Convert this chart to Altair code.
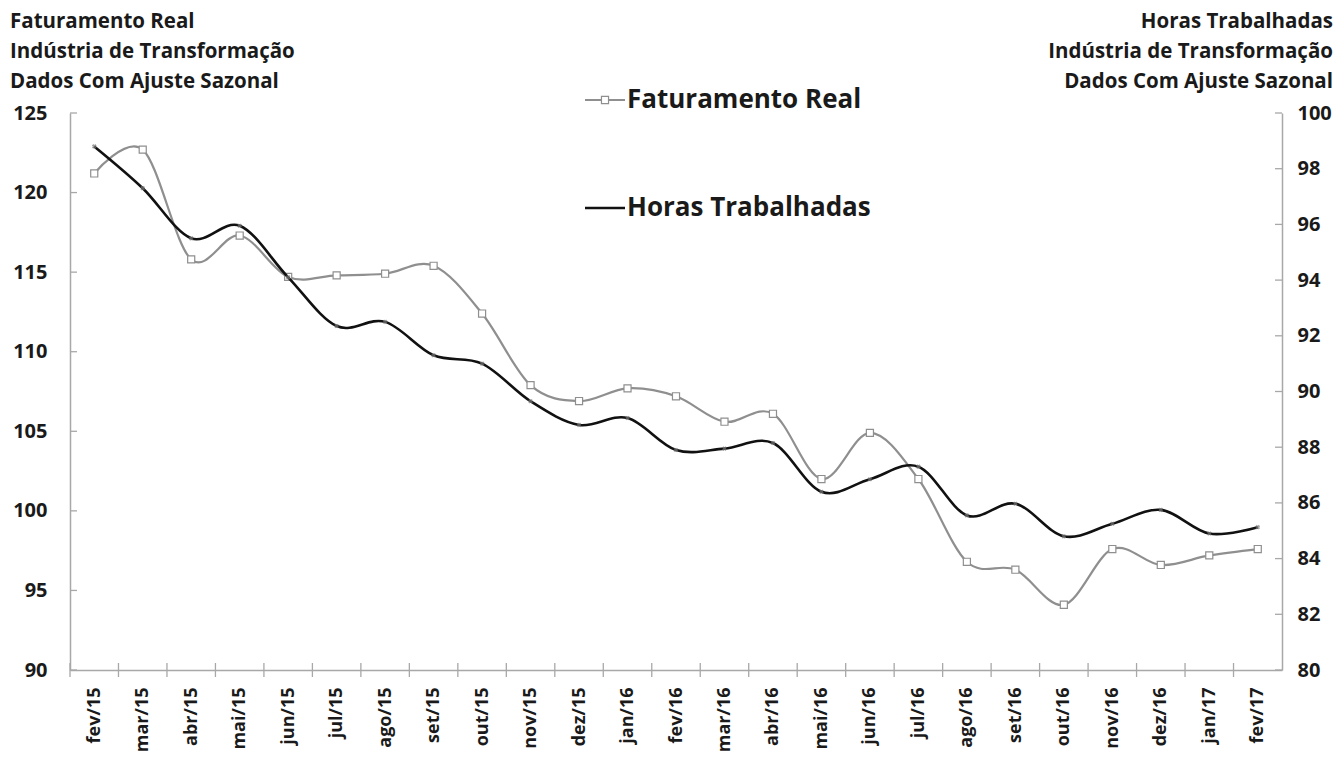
import altair as alt
import pandas as pd

months = ["fev/15", "mar/15", "abr/15", "mai/15", "jun/15", "jul/15", "ago/15", "set/15",
          "out/15", "nov/15", "dez/15", "jan/16", "fev/16", "mar/16", "abr/16", "mai/16",
          "jun/16", "jul/16", "ago/16", "set/16", "out/16", "nov/16", "dez/16", "jan/17", "fev/17"]
faturamento = [121.2, 122.7, 115.8, 117.3, 114.7, 114.8, 114.9, 115.4, 112.4, 107.9,
               106.9, 107.7, 107.2, 105.6, 106.1, 102.0, 104.9, 102.0, 96.8, 96.3,
               94.1, 97.6, 96.6, 97.2, 97.6]
horas = [98.8, 97.3, 95.5, 95.95, 94.1, 92.35, 92.5, 91.3, 91.0, 89.65,
         88.8, 89.05, 87.9, 87.95, 88.15, 86.4, 86.85, 87.3, 85.55, 85.97,
         84.8, 85.25, 85.75, 84.9, 85.13]
left_ticks = [90, 95, 100, 105, 110, 115, 120, 125]
right_ticks = [80, 82, 84, 86, 88, 90, 92, 94, 96, 98, 100]
left_title = ["Faturamento Real", "Indústria de Transformação", "Dados Com Ajuste Sazonal"]
right_title = ["Horas Trabalhadas", "Indústria de Transformação", "Dados Com Ajuste Sazonal"]
legend_names = ["Faturamento Real", "Horas Trabalhadas"]

W, H = 1212, 557
FONT = "Open Sans"
GRAY = "#8f8f8f"
AXIS_GRAY = "#a8a8a8"
TXT = "#1a1a1a"

df = pd.DataFrame({"mes": months, "fat": faturamento, "horas": horas})
one = pd.DataFrame({"k": [0]})

xscale = alt.Scale(type="band", paddingInner=0, paddingOuter=0)
x_axis = alt.Axis(title=None, labelAngle=-90, tickBand="extent", ticks=False,
                  domainColor=AXIS_GRAY, domainWidth=1.5, labelFont=FONT,
                  labelFontWeight="bold", labelFontSize=18, labelColor=TXT,
                  labelPadding=17, grid=False)
x_enc = alt.X("mes:N", sort=months, scale=xscale, axis=x_axis)

lscale = alt.Scale(domain=[90, 125], nice=False, zero=False)
rscale = alt.Scale(domain=[80, 100], nice=False, zero=False)
l_axis = alt.Axis(title=None, orient="left", values=left_ticks, ticks=False,
                  domainColor=AXIS_GRAY, domainWidth=1.5, grid=False,
                  labelFont=FONT, labelFontWeight="bold", labelFontSize=20,
                  labelColor=TXT, labelPadding=23)
r_axis = alt.Axis(title=None, orient="right", values=right_ticks, ticks=False,
                  domainColor=AXIS_GRAY, domainWidth=1.5, grid=False,
                  labelFont=FONT, labelFontWeight="bold", labelFontSize=20,
                  labelColor=TXT, labelPadding=15)

base = alt.Chart(df)

fat_line = base.mark_line(color=GRAY, strokeWidth=2.2, interpolate="cardinal").encode(
    x=x_enc, y=alt.Y("fat:Q", scale=lscale, axis=l_axis))
fat_pts = base.mark_square(size=50, fill="white", stroke=GRAY, strokeWidth=1.2, opacity=1).encode(
    x=x_enc, y=alt.Y("fat:Q", scale=lscale, axis=l_axis))
lt = alt.Chart(pd.DataFrame({"v": left_ticks})).mark_rule(color=AXIS_GRAY, strokeWidth=1.3).encode(
    y=alt.Y("v:Q", scale=lscale, axis=l_axis), x=alt.value(0), x2=alt.value(7))
xt = base.mark_rule(color=AXIS_GRAY, strokeWidth=1.3).encode(
    x=alt.X("mes:N", sort=months, scale=xscale, axis=x_axis, bandPosition=0),
    y=alt.value(H - 7), y2=alt.value(H + 7))
left_layer = alt.layer(fat_line, fat_pts, lt, xt)

h_line = base.mark_line(color="#111111", strokeWidth=2.6, interpolate="cardinal").encode(
    x=x_enc, y=alt.Y("horas:Q", scale=rscale, axis=r_axis))
h_pts = base.mark_point(shape="cross", angle=45, size=22, filled=True, color="#777777", opacity=0.7).encode(
    x=x_enc, y=alt.Y("horas:Q", scale=rscale, axis=r_axis))
rt = alt.Chart(pd.DataFrame({"v": right_ticks})).mark_rule(color=AXIS_GRAY, strokeWidth=1.3).encode(
    y=alt.Y("v:Q", scale=rscale, axis=r_axis), x=alt.value(W - 7), x2=alt.value(W))
right_layer = alt.layer(h_line, h_pts, rt)

def text_at(txt, x, y, align, size):
    return alt.Chart(one).mark_text(align=align, baseline="middle", font=FONT, fontWeight="bold",
                                    fontSize=size, color=TXT).encode(
        x=alt.value(x), y=alt.value(y), text=alt.value(txt))

title_layers = []
for i, (lt_txt, rt_txt) in enumerate(zip(left_title, right_title)):
    title_layers.append(text_at(lt_txt, -60, -91 + 30 * i, "left", 20.5))
    title_layers.append(text_at(rt_txt, W + 51, -91 + 30 * i, "right", 20.5))

lg1_line = alt.Chart(one).mark_rule(color=GRAY, strokeWidth=2.2).encode(
    x=alt.value(515), x2=alt.value(555), y=alt.value(-13))
lg1_sq = alt.Chart(one).mark_square(size=50, fill="white", stroke=GRAY, strokeWidth=1.2, opacity=1).encode(
    x=alt.value(535), y=alt.value(-13))
lg1_txt = text_at(legend_names[0], 557, -13, "left", 26)
lg2_line = alt.Chart(one).mark_rule(color="#111111", strokeWidth=2.6).encode(
    x=alt.value(515), x2=alt.value(555), y=alt.value(95))
lg2_txt = text_at(legend_names[1], 557, 95, "left", 26)

chart = alt.layer(
    left_layer, right_layer, *title_layers, lg1_line, lg1_sq, lg1_txt, lg2_line, lg2_txt
).resolve_scale(y="independent").properties(
    width=W, height=H,
    padding={"left": 62, "top": 105, "right": 53, "bottom": 86},
    autosize=alt.AutoSizeParams(type="none"),
    background="white",
).configure_view(stroke=None)

chart.save("out.html", embed_options={"renderer": "svg", "actions": False})
